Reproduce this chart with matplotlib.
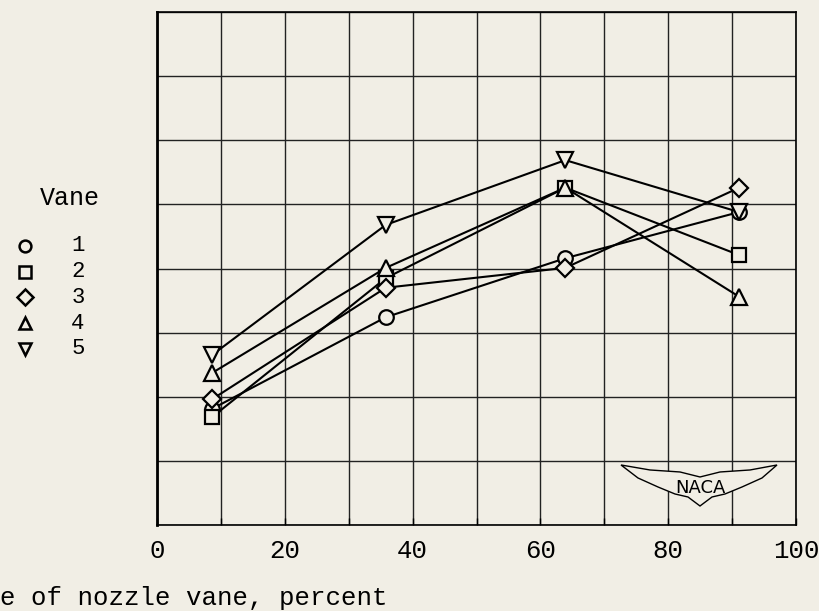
import numpy as np
import matplotlib.pyplot as plt
from matplotlib.patches import Polygon

# posicion a lo largo del alabe (porcentaje)
posicion = [8.6, 35.8, 63.9, 91.1]

# valores (unidades de rejilla)
alabe_1 = [1.81, 3.24, 4.16, 4.88]
alabe_2 = [1.68, 3.85, 5.26, 4.21]
alabe_3 = [1.96, 3.70, 4.01, 5.26]
alabe_4 = [2.37, 4.01, 5.26, 3.56]
alabe_5 = [2.65, 4.68, 5.69, 4.88]

nombres = ["1", "2", "3", "4", "5"]
marcadores = ["o", "s", "D", "^", "v"]
tamanos = [10.5, 10.5, 9.5, 12, 12]

fondo = "#f1eee5"
fuente = "Liberation Mono"


def main():
    fig = plt.figure(figsize=(8.19, 6.11), dpi=100, facecolor=fondo)
    ax = fig.add_axes([157 / 819, 1 - 525 / 611, (796 - 157) / 819, (525 - 12) / 611])
    ax.set_facecolor(fondo)

    series = [alabe_1, alabe_2, alabe_3, alabe_4, alabe_5]
    for datos, m, t in zip(series, marcadores, tamanos):
        ax.plot(posicion, datos, color="black", lw=1.5, zorder=3)
        ax.plot(posicion, datos, linestyle="none", marker=m, ms=t,
                mfc=fondo, mec="black", mew=1.6, zorder=4)

    ax.set_xlim(0, 100)
    ax.set_ylim(0, 8)
    ax.set_xticks(np.arange(0, 101, 10))
    ax.set_xticklabels([str(v) if v % 20 == 0 else "" for v in range(0, 101, 10)],
                       family=fuente, fontsize=18.5)
    ax.set_yticks(np.arange(0, 9, 1))
    ax.set_yticklabels([])
    ax.tick_params(axis="y", length=0)
    ax.tick_params(axis="x", direction="in", length=5, width=1.0, pad=10)
    ax.grid(True, color="#222222", lw=1.0)
    for lado in ax.spines:
        ax.spines[lado].set_linewidth(1.2)
    ax.spines["left"].set_linewidth(2.0)

    # leyenda a mano, como en el original
    fig.text(70 / 819, 1 - 198 / 611, "Vane", family=fuente, fontsize=18,
             ha="center", va="center")
    for i, (m, nombre) in enumerate(zip(marcadores, nombres)):
        yy = 1 - (246 + i * 25.7) / 611
        fig.lines.append(plt.Line2D([25 / 819], [yy], marker=m,
                                    ms=8.5 if m != "D" else 8,
                                    mfc="none", mec="black", mew=1.8,
                                    transform=fig.transFigure))
        fig.text(78 / 819, yy, nombre, family=fuente, fontsize=16,
                 ha="center", va="center")

    fig.text(0.0, 1 - 598 / 611, "e of nozzle vane, percent", family=fuente,
             fontsize=18.5, ha="left", va="center")

    # logotipo NACA
    ala = np.array([[621, 465], [650, 470], [680, 472], [700, 477], [720, 472],
                    [750, 470], [777, 465], [762, 478], [742, 487], [725, 494],
                    [712, 497], [700, 506], [688, 497], [675, 494], [658, 487],
                    [638, 478]])
    ala_ax = np.column_stack([(ala[:, 0] - 157) / 639 * 100, (525 - ala[:, 1]) / 64.1])
    ax.add_patch(Polygon(ala_ax, closed=True, fill=True, fc=fondo, ec="black",
                         lw=1.0, zorder=5))
    ax.text((700 - 157) / 639 * 100, (525 - 488) / 64.1, "NACA", fontsize=13,
            family="DejaVu Sans", ha="center", va="center", zorder=6)

    fig.savefig("out.png", dpi=100, facecolor=fondo)


if __name__ == "__main__":
    main()
